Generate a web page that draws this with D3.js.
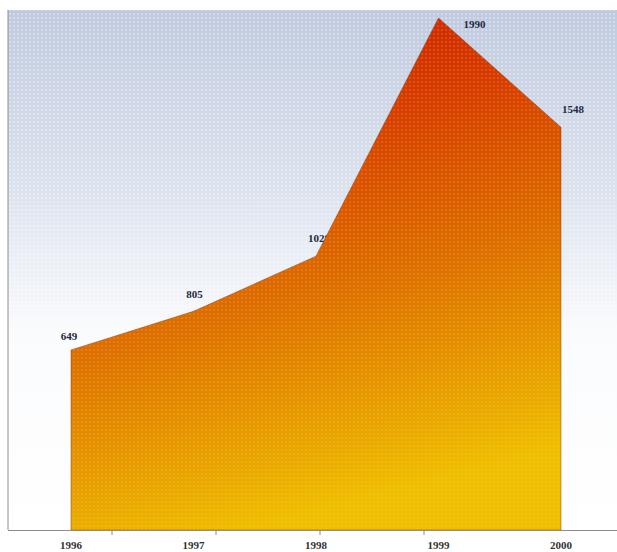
<!DOCTYPE html>
<html>
<head>
<meta charset="utf-8">
<script src="https://cdn.jsdelivr.net/npm/d3@7"></script>
<style>
  body { margin: 0; background: #fff; }
  svg { display: block; }
</style>
</head>
<body>
<div id="chart"></div>
<script>
// data
const years = ['1996', '1997', '1998', '1999', '2000'];
const values = [649, 805, 1028, 1990, 1548];
const valueLabels = ['649', '805', '1028', '1990', '1548'];

const width = 617, height = 552;
const plot = { left: 8, right: 617, top: 10, bottom: 530 };

const svg = d3.select('#chart').append('svg')
  .attr('width', width)
  .attr('height', height);

const defs = svg.append('defs');

// background: pale blue at top fading to white
const bg = defs.append('linearGradient')
  .attr('id', 'bg-grad')
  .attr('x1', 0).attr('y1', 0).attr('x2', 0).attr('y2', 1);
bg.append('stop').attr('offset', '0%').attr('stop-color', '#c0cadf');
bg.append('stop').attr('offset', '35%').attr('stop-color', '#dde3ee');
bg.append('stop').attr('offset', '62%').attr('stop-color', '#fafbfd');
bg.append('stop').attr('offset', '100%').attr('stop-color', '#ffffff');

// area: red at the peak, orange in the middle, gold at the bottom right
const fillGrad = defs.append('linearGradient')
  .attr('id', 'area-grad')
  .attr('x1', 0.1).attr('y1', 0).attr('x2', 0.35).attr('y2', 1);
fillGrad.append('stop').attr('offset', '0%').attr('stop-color', '#c81800');
fillGrad.append('stop').attr('offset', '28%').attr('stop-color', '#d63a00');
fillGrad.append('stop').attr('offset', '62%').attr('stop-color', '#de7200');
fillGrad.append('stop').attr('offset', '100%').attr('stop-color', '#efbe00');

// halftone-ish dot texture
const dots = defs.append('pattern')
  .attr('id', 'dots')
  .attr('width', 4).attr('height', 4)
  .attr('patternUnits', 'userSpaceOnUse');
dots.append('circle').attr('cx', 2).attr('cy', 2).attr('r', 0.9)
  .attr('fill', '#ffffff').attr('opacity', 0.45);

const darkDots = defs.append('pattern')
  .attr('id', 'dark-dots')
  .attr('width', 4).attr('height', 4)
  .attr('patternUnits', 'userSpaceOnUse');
darkDots.append('circle').attr('cx', 2).attr('cy', 2).attr('r', 0.9)
  .attr('fill', '#ffdd66').attr('opacity', 0.25);

// scales
const x = d3.scalePoint()
  .domain(years)
  .range([71, 561]);

const y = d3.scaleLinear()
  .domain([-78, 2022])
  .range([plot.bottom, plot.top]);

// plot background
svg.append('rect')
  .attr('x', plot.left).attr('y', plot.top)
  .attr('width', plot.right - plot.left)
  .attr('height', plot.bottom - plot.top)
  .attr('fill', 'url(#bg-grad)');
svg.append('rect')
  .attr('x', plot.left).attr('y', plot.top)
  .attr('width', plot.right - plot.left)
  .attr('height', plot.bottom - plot.top)
  .attr('fill', 'url(#dots)');

const points = years.map((yr, i) => ({ year: yr, value: values[i], label: valueLabels[i], i }));

// label offsets: rising points get the label above, the last two to the right
const labelDx = [-2, 1, 3, 36, 12];
const labelDy = [-10, -13, -14, 10, -14];

// value labels (drawn under the area, the 1998 one is partly covered)
svg.append('g')
  .selectAll('text')
  .data(points)
  .enter()
  .append('text')
  .attr('x', d => x(d.year) + labelDx[d.i])
  .attr('y', d => y(d.value) + labelDy[d.i])
  .attr('text-anchor', 'middle')
  .style('font-family', '"Liberation Serif", "DejaVu Serif", serif')
  .style('font-size', '11px')
  .style('font-weight', 'bold')
  .style('fill', '#1f2a40')
  .text(d => d.label);

// the area
const area = d3.area()
  .x(d => x(d.year))
  .y0(y(-78))
  .y1(d => y(d.value));

svg.append('path')
  .datum(points)
  .attr('d', area)
  .attr('fill', 'url(#area-grad)')
  .attr('stroke', '#8a3a10')
  .attr('stroke-width', 0.8)
  .attr('stroke-opacity', 0.6);

svg.append('path')
  .datum(points)
  .attr('d', area)
  .attr('fill', 'url(#dark-dots)');

// left frame line
svg.append('line')
  .attr('x1', plot.left).attr('x2', plot.left)
  .attr('y1', plot.top).attr('y2', plot.bottom)
  .attr('stroke', '#8c8c8c')
  .attr('stroke-width', 1);

// bottom axis
svg.append('line')
  .attr('x1', plot.left).attr('x2', plot.right)
  .attr('y1', plot.bottom + 0.5).attr('y2', plot.bottom + 0.5)
  .attr('stroke', '#8c8c8c')
  .attr('stroke-width', 1);

// the small ticks on the bottom axis sit between the labels
const tickScale = d3.scaleLinear().domain([0, 5]).range([plot.left, 528]);
svg.append('g')
  .selectAll('line')
  .data([1, 2, 3, 4])
  .enter()
  .append('line')
  .attr('x1', d => tickScale(d)).attr('x2', d => tickScale(d))
  .attr('y1', plot.bottom).attr('y2', plot.bottom + 5)
  .attr('stroke', '#8c8c8c');

svg.append('g')
  .selectAll('text')
  .data(years)
  .enter()
  .append('text')
  .attr('x', d => x(d))
  .attr('y', 549)
  .attr('text-anchor', 'middle')
  .style('font-family', '"Liberation Serif", "DejaVu Serif", serif')
  .style('font-size', '11px')
  .style('font-weight', 'bold')
  .style('fill', '#333')
  .text(d => d);
</script>
</body>
</html>
